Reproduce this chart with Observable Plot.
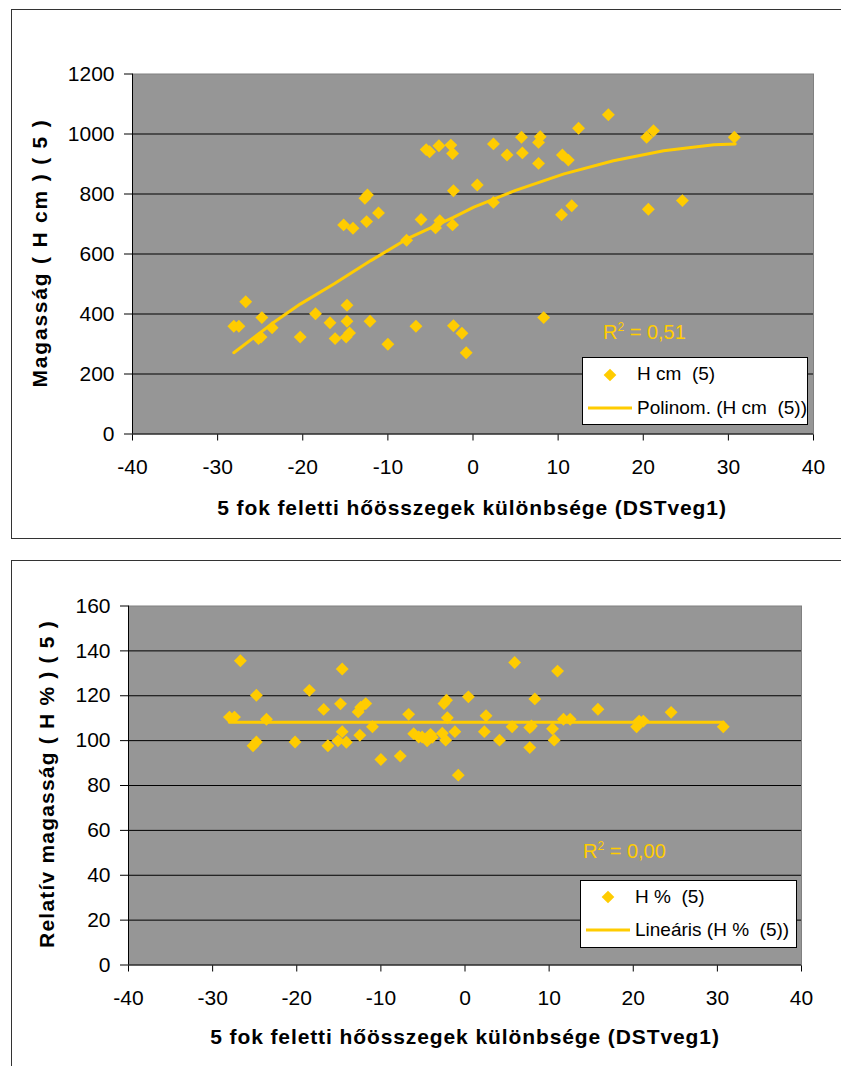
<!DOCTYPE html>
<html>
<head>
<meta charset="utf-8">
<script src="https://cdn.jsdelivr.net/npm/d3@7"></script>
<script src="https://cdn.jsdelivr.net/npm/@observablehq/plot@0.6"></script>
<style>
  body { margin: 0; width: 841px; height: 1066px; position: relative; overflow: hidden; background: #fff;
         font-family: "Liberation Sans", Arial, sans-serif; color: #000; }
  .box { position: absolute; border: 1.5px solid #333; }
  .abs { position: absolute; white-space: pre; }
  .title { font-weight: bold; font-size: 21px; letter-spacing: 0.9px; transform: translate(-50%, -50%); }
  .ytitle { font-weight: bold; font-size: 21px; transform: translate(-50%, -50%) rotate(-90deg); }
  .legend { position: absolute; background: #fff; border: 1px solid #000; }
  .lg { position: absolute; font-size: 19px; white-space: pre; transform: translateY(-50%); }
  .dia { position: absolute; width: 9px; height: 9px; background: #FFCC00; transform: translate(-50%, -50%) rotate(45deg); }
  .seg { position: absolute; height: 3px; background: #FFCC00; transform: translateY(-50%); }
  .r2 { position: absolute; color: #FFCC00; font-size: 20px; white-space: pre; transform: translateY(-50%); }
  .r2 sup { font-size: 12px; }
  #top, #bottom { position: absolute; left: 0; }
</style>
</head>
<body>
<div class="box" style="left:11px; top:9px; right:-5px; height:528px;"></div>
<div class="box" style="left:11px; top:560px; right:-5px; bottom:-5px;"></div>
<div id="top" style="top:0"></div>
<div id="bottom" style="top:540px"></div>

<script>
// shared x ticks
const xTicks = [-40, -30, -20, -10, 0, 10, 20, 30, 40];

// top chart: H cm (5)
const topX = [-28.1,-27.5,-26.7,-24.8,-23.6,-25.2,-24.9,-20.3,-18.5,-16.8,-16.2,-14.8,-14.8,-14.9,-14.5,
  -12.1,-10.0,-6.7,-2.3,-1.3,-0.8,-5.5,-5.1,-4.0,-2.6,-2.4,-12.7,-12.4,-2.3,-15.2,-14.1,-12.5,-11.1,-6.1,
  -7.8,-4.4,-3.9,-2.4,2.4,4.0,5.7,5.8,7.7,7.7,7.9,10.5,11.2,12.4,15.9,20.4,21.2,30.7,0.5,2.4,10.4,11.6,
  20.6,24.6,8.3];
const topH = [359,359,441,388,354,318,323,323,401,371,318,429,376,323,337,376,299,359,361,336,271,948,
  941,961,963,935,786,797,811,697,686,708,737,715,646,687,711,697,967,930,989,937,902,972,991,930,913,
  1019,1064,989,1011,989,830,772,731,761,749,778,388];
// polynomial trend line
const trendX = [-28.1,-23.6,-20.3,-16.3,-12.0,-7.7,-2.3,0.1,5.0,10.7,16.5,22.4,28.3,30.8];
const trendH = [271,368,433,501,578,651,722,756,812,867,911,944,964,967];
const yTicksTop = [0, 200, 400, 600, 800, 1000, 1200];

// bottom chart: H % (5)
const botX = [-28.0,-27.4,-26.7,-24.8,-23.6,-25.2,-24.8,-20.2,-18.5,-16.8,-16.3,-14.6,-14.8,-14.6,-15.1,
  -14.1,-12.7,-12.4,-11.8,-12.5,-11.0,-10.0,-7.7,-6.7,-6.1,-5.5,-5.1,-4.5,-4.1,-3.9,-2.7,-2.3,-2.5,-2.2,
  -2.1,-1.2,-0.8,0.4,2.5,2.3,4.1,5.9,5.6,7.7,7.9,7.7,8.3,10.4,10.6,11.0,11.7,12.5,15.8,20.4,20.7,21.2,
  24.5,30.7];
const botP = [110.5,110.5,135.6,120.2,109.5,97.7,99.4,99.4,122.4,113.9,97.7,131.9,116.4,104.0,99.9,99.3,
  112.8,114.9,116.5,102.4,106.2,91.6,93.1,111.7,103.1,101.6,101.6,99.9,102.8,101.5,103.3,100.2,116.5,
  118.0,110.2,104.0,84.6,119.5,111.1,104.0,100.2,134.8,106.2,105.8,106.5,96.9,118.6,105.3,100.2,131.0,
  109.5,109.5,114.0,106.2,108.7,108.7,112.6,106.2];
// linear trend line
const linX = [-28.0, 30.7];
const linP = [108.2, 108.2];
const yTicksBot = [0, 20, 40, 60, 80, 100, 120, 140, 160];

function chart(xs, ys, tx, ty, yTicks, m) {
  const pts = xs.map((x, i) => ({x, y: ys[i]}));
  const tr = tx.map((x, i) => ({x, y: ty[i]}));
  return Plot.plot({
    width: 841,
    height: m.height,
    marginLeft: m.left,
    marginRight: m.right,
    marginTop: m.top,
    marginBottom: m.bottom,
    style: {
      background: "transparent",
      fontFamily: "Liberation Sans, Arial, sans-serif",
      fontSize: "21px",
      color: "#000",
    },
    x: {domain: [-40, 40], ticks: xTicks, tickFormat: d => String(d), tickSize: 7, tickPadding: 18, label: null},
    y: {domain: [0, yTicks[yTicks.length - 1]], ticks: yTicks, tickFormat: d => String(d),
        tickSize: 8, tickPadding: 10, label: null},
    marks: [
      Plot.frame({fill: "#969696", stroke: "#808080"}),
      Plot.ruleY(yTicks.slice(1, -1), {stroke: "#000", strokeWidth: 1}),
      Plot.ruleX([-40], {stroke: "#000"}),
      Plot.ruleY([0], {stroke: "#000"}),
      Plot.line(tr, {x: "x", y: "y", stroke: "#FFCC00", strokeWidth: 3}),
      Plot.dot(pts, {x: "x", y: "y", symbol: "diamond2", r: 5.8, fill: "#FFCC00"}),
    ],
  });
}

d3.select("#top").append(() => chart(topX, topH, trendX, trendH, yTicksTop,
  {height: 538, left: 132, right: 28, top: 73.5, bottom: 104.5}));
d3.select("#bottom").append(() => chart(botX, botP, linX, linP, yTicksBot,
  {height: 526, left: 128, right: 40, top: 65.5, bottom: 101.5}));
</script>

<!-- top chart texts -->
<div class="abs ytitle" style="left:40px; top:253px; letter-spacing:1.8px;">Magasság ( H cm ) ( 5 )</div>
<div class="abs title" style="left:472px; top:508px;">5 fok feletti hőösszegek különbsége (DSTveg1)</div>
<div class="r2" style="left:603px; top:332px;">R<sup>2</sup> = 0,51</div>
<div class="legend" style="left:582px; top:357px; width:224px; height:66px;"></div>
<div class="dia" style="left:610px; top:375px;"></div>
<div class="lg" style="left:637px; top:374px;">H cm  (5)</div>
<div class="seg" style="left:588px; top:408px; width:44px;"></div>
<div class="lg" style="left:637px; top:408px;">Polinom. (H cm  (5))</div>

<!-- bottom chart texts -->
<div class="abs ytitle" style="left:47px; top:784px; letter-spacing:1.2px;">Relatív magasság ( H % ) ( 5 )</div>
<div class="abs title" style="left:465px; top:1037px;">5 fok feletti hőösszegek különbsége (DSTveg1)</div>
<div class="r2" style="left:583px; top:851px;">R<sup>2</sup> = 0,00</div>
<div class="legend" style="left:580px; top:880px; width:215px; height:66px;"></div>
<div class="dia" style="left:608px; top:897px;"></div>
<div class="lg" style="left:635px; top:897px;">H %  (5)</div>
<div class="seg" style="left:586px; top:930px; width:44px;"></div>
<div class="lg" style="left:635px; top:930px;">Lineáris (H %  (5))</div>
</body>
</html>
